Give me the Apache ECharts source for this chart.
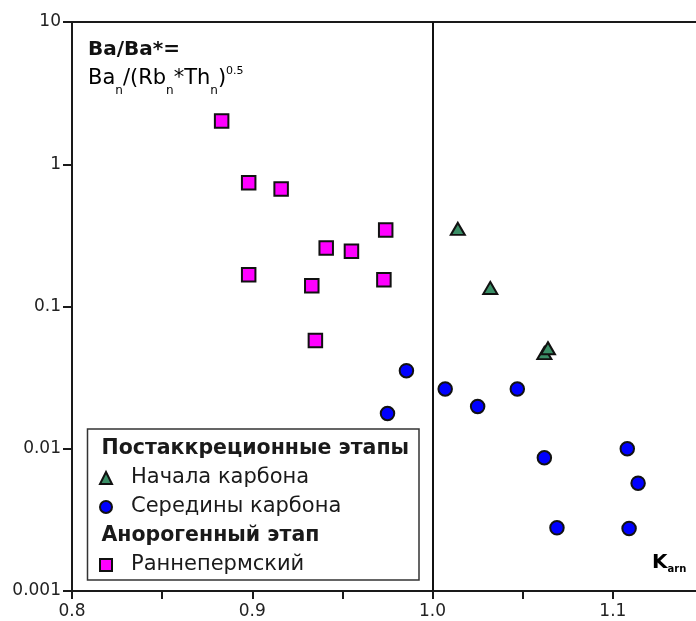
<!DOCTYPE html>
<html>
<head>
<meta charset="utf-8">
<script src="https://cdn.jsdelivr.net/npm/echarts@6/dist/echarts.min.js"></script>
<style>
html,body{margin:0;padding:0;background:#fff;}
#chart{width:696px;height:621px;}
</style>
</head>
<body>
<div id="chart"></div>
<script>
// ---- data (Karn, Ba/Ba*) ----
var earlyPermian = [ // Раннепермский
  [0.883, 2.01], [0.898, 0.74], [0.916, 0.67], [0.974, 0.345], [0.941, 0.258],
  [0.955, 0.245], [0.898, 0.167], [0.933, 0.140], [0.973, 0.154], [0.935, 0.0577]
];
var midCarboniferous = [ // Середины карбона
  [0.9855, 0.0354], [1.007, 0.0263], [1.025, 0.0198], [1.047, 0.0263], [1.062, 0.00865],
  [1.108, 0.0100], [1.114, 0.00573], [1.069, 0.00278], [1.109, 0.00275], [0.975, 0.0177]
];
var earlyCarboniferous = [ // Начала карбона
  [1.014, 0.351], [1.032, 0.135], [1.062, 0.047], [1.064, 0.0509]
];
var xTickLabels = ['0.8', '0.9', '1.0', '1.1'];
var yTickLabels = ['0.001', '0.01', '0.1', '1', '10'];
var boundaryX = 1.0;

var FONT = '"DejaVu Sans", "Liberation Sans", Arial, sans-serif';
var chart = echarts.init(document.getElementById('chart'), null, {renderer: 'canvas'});

var legendText = {fontSize: 21, fontFamily: FONT, color: '#1a1a1a', lineHeight: 29, padding: [0, 0, 0, 14]};

var option = {
  backgroundColor: '#ffffff',
  animation: false,
  grid: {left: 72, top: 22, width: 631, bottom: 30, containLabel: false, outerBoundsMode: 'none'},
  xAxis: [{
    type: 'value', min: 0.8, max: 1.15, interval: 0.05,
    axisLine: {show: true, onZero: false, lineStyle: {color: '#1a1a1a', width: 2}},
    axisTick: {show: true, length: 8, lineStyle: {color: '#1a1a1a', width: 2}},
    splitLine: {show: false},
    axisLabel: {
      margin: 12, fontSize: 17, color: '#222', fontFamily: FONT,
      formatter: function (v) {
        var s = v.toFixed(1);
        return (Math.abs(v * 10 - Math.round(v * 10)) < 1e-6 && xTickLabels.indexOf(s) >= 0) ? s : '';
      }
    }
  }, {
    type: 'value', position: 'top', min: 0.8, max: 1.15,
    axisLine: {show: true, onZero: false, lineStyle: {color: '#1a1a1a', width: 2}},
    axisTick: {show: false}, axisLabel: {show: false}, splitLine: {show: false}
  }],
  yAxis: {
    type: 'log', logBase: 10, min: 0.001, max: 10,
    axisLine: {show: true, onZero: false, lineStyle: {color: '#1a1a1a', width: 2}},
    axisTick: {show: true, length: 9, lineStyle: {color: '#1a1a1a', width: 2}},
    minorTick: {show: false},
    splitLine: {show: false},
    axisLabel: {
      margin: 11, fontSize: 17, color: '#222', fontFamily: FONT,
      formatter: function (v) {
        var e = Math.round(Math.log10(v));
        return yTickLabels[e + 3];
      }
    }
  },
  legend: [{
    data: ['Начала карбона', 'Середины карбона'],
    orient: 'vertical', left: 99, top: 463.5, padding: 0, itemGap: 0,
    itemWidth: 12, itemHeight: 12, z: 20,
    textStyle: legendText
  }, {
    data: ['Раннепермский'],
    orient: 'vertical', left: 99, top: 550.5, padding: 0, itemGap: 0,
    itemWidth: 12, itemHeight: 12, z: 20,
    textStyle: legendText
  }],
  graphic: [
    {type: 'rect', shape: {x: 87.5, y: 429, width: 331.5, height: 151},
     style: {fill: '#fff', stroke: '#333', lineWidth: 1.5}, z: 1},
    {type: 'text', x: 101.5, y: 448.5, z: 30,
     style: {text: 'Постаккреционные этапы', font: 'bold 20.5px ' + FONT, fill: '#1a1a1a', verticalAlign: 'middle'}},
    {type: 'text', x: 101.5, y: 535.5, z: 30,
     style: {text: 'Анорогенный этап', font: 'bold 20.5px ' + FONT, fill: '#1a1a1a', verticalAlign: 'middle'}},
    {type: 'text', x: 88, y: 50, z: 30,
     style: {text: 'Ba/Ba*=', font: 'bold 20px ' + FONT, fill: '#111', verticalAlign: 'middle'}},
    {type: 'text', x: 88, y: 79, z: 30,
     style: {
       text: '{m|Ba}{s|n}{m|/(Rb}{s|n}{m|*Th}{s|n}{m|)}{p|0.5}',
       verticalAlign: 'middle',
       rich: {
         m: {fontSize: 21, fontFamily: FONT, color: '#3a3a3a', lineHeight: 36},
         s: {fontSize: 12, fontFamily: FONT, color: '#3a3a3a', lineHeight: 12, verticalAlign: 'bottom'},
         p: {fontSize: 11, fontFamily: FONT, color: '#3a3a3a', lineHeight: 11, verticalAlign: 'top', padding: [5, 0, 0, 0]}
       }
     }},
    {type: 'text', x: 652, y: 574, z: 30,
     style: {
       text: '{k|K}{s|arn}',
       verticalAlign: 'bottom',
       rich: {
         k: {fontSize: 20, fontWeight: 'bold', fontFamily: FONT, color: '#111', lineHeight: 22},
         s: {fontSize: 10, fontWeight: 'bold', fontFamily: FONT, color: '#111', lineHeight: 22, verticalAlign: 'bottom', padding: [6, 0, 0, 0]}
       }
     }}
  ],
  series: [
    {
      name: 'Раннепермский', type: 'scatter', data: earlyPermian,
      symbol: 'rect', symbolSize: 13.5,
      itemStyle: {color: '#ff00ff', borderColor: '#111', borderWidth: 2, opacity: 1},
      markLine: {
        silent: true, symbol: ['none', 'none'], label: {show: false},
        lineStyle: {color: '#111', width: 2, type: 'solid'},
        data: [{xAxis: boundaryX}]
      },
      z: 10
    },
    {
      name: 'Середины карбона', type: 'scatter', data: midCarboniferous,
      symbol: 'circle', symbolSize: 13.5,
      itemStyle: {color: '#0000ff', borderColor: '#111', borderWidth: 2, opacity: 1},
      z: 10
    },
    {
      name: 'Начала карбона', type: 'scatter', data: earlyCarboniferous,
      symbol: 'triangle', symbolSize: [14, 12],
      itemStyle: {color: '#3a8e66', borderColor: '#111', borderWidth: 2, opacity: 1},
      z: 10
    }
  ]
};
chart.setOption(option);
</script>
</body>
</html>
